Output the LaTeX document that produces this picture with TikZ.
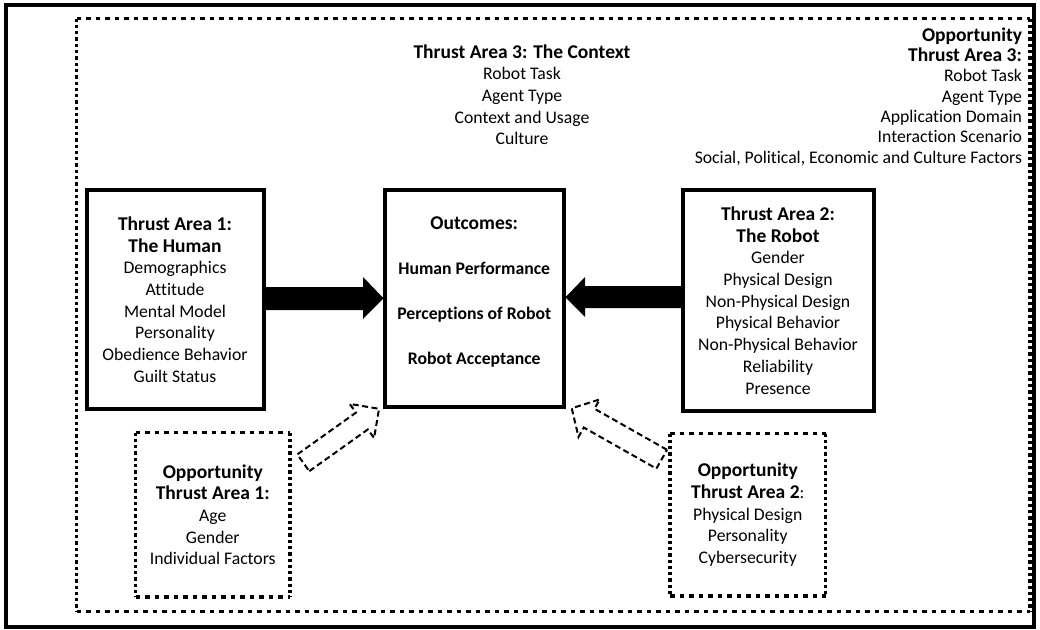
\documentclass[tikz,border=0pt]{standalone}
\usepackage{fontspec}
\setmainfont{Carlito}[Ligatures={NoCommon}]
\usetikzlibrary{calc}
\newcommand\myBody{\fontsize{17.7}{21.7}\selectfont}
\newcommand\myTitle{\fontsize{19.5}{21.7}\bfseries\selectfont}
\newcommand\myDotBox[1]{%
  \draw[hdots] (#1.north west) -- (#1.north east);
  \draw[hdots] (#1.south west) -- (#1.south east);
  \draw[vdots] (#1.north west) -- (#1.south west);
  \draw[vdots] (#1.north east) -- (#1.south east);}
\tikzset{
  solidbox/.style={draw, line width=4pt, inner sep=0pt, outer sep=0pt, align=center, font=\myBody},
  dotbox/.style={inner sep=0pt, outer sep=0pt, align=center, font=\myBody},
  hdots/.style={line width=3.5pt, dash pattern=on 4.9pt off 4.6pt},
  vdots/.style={line width=3.5pt, dash pattern=on 3.3pt off 3pt},
  hollow/.style={draw, line width=2pt, dash pattern=on 6pt off 3.5pt, line join=miter},
  txt/.style={inner sep=0pt, outer sep=0pt, font=\myBody}
}
\begin{document}
\begin{tikzpicture}[x=1pt,y=-1pt]
\useasboundingbox (0,0) rectangle (1040,629);
\fill[white] (0,0) rectangle (1040,629);
% outer frame
\draw[line width=4pt] (6,5) rectangle (1034,626.5);
% dotted frame
\coordinate (fnw) at (76.5,18.5);
\coordinate (fse) at (1030,611.5);
\draw[hdots] (fnw) -- (fse |- fnw);
\draw[hdots] (fnw |- fse) -- (fse);
\draw[vdots] (fnw) -- (fnw |- fse);
\draw[vdots] (fse |- fnw) -- (fse);

% Thrust area 3
\node[txt, align=center] (ta3) at (522,94.7) {{\myTitle Thrust Area 3: The Context}\\Robot Task\\Agent Type\\Context and Usage\\Culture};
% Opportunity thrust area 3
\node[txt, align=right, anchor=north east, font=\fontsize{17.7}{20.3}\selectfont] (ot3) at (1022,27.6) {{\bfseries\fontsize{19.5}{20.3}\selectfont Opportunity}\\{\bfseries\fontsize{19.5}{20.3}\selectfont Thrust Area 3:}\\Robot Task\\Agent Type\\Application Domain\\Interaction Scenario\\Social, Political, Economic and Culture Factors};

% main boxes
\node[solidbox, minimum width=177pt, minimum height=219pt] (h) at (175,299.5)
  {{\myTitle Thrust Area 1:}\\{\myTitle The Human}\\Demographics\\Attitude\\Mental Model\\Personality\\Obedience Behavior\\Guilt Status};
\node[solidbox, minimum width=178.5pt, minimum height=217.5pt] (o) at (474.25,298.25) {};
\node[txt, align=center, font=\fontsize{17.7}{45}\bfseries\selectfont] (otx) at (474.25,292)
  {{\myTitle Outcomes:}\\Human Performance\\Perceptions of Robot\\Robot Acceptance};
\node[solidbox, minimum width=191pt, minimum height=221pt] (r) at (778,300.5)
  {{\myTitle Thrust Area 2:}\\{\myTitle The Robot}\\Gender\\Physical Design\\Non-Physical Design\\Physical Behavior\\Non-Physical Behavior\\Reliability\\Presence};

% opportunity boxes
\node[dotbox, minimum width=154.5pt, minimum height=164.5pt] (o1) at (212.75,514.75)
  {{\myTitle Opportunity}\\{\myTitle Thrust Area 1:}\\Age\\Gender\\Individual Factors};
\myDotBox{o1}
\node[dotbox, minimum width=155.5pt, minimum height=162.5pt] (o2) at (747.75,514.75)
  {{\myTitle Opportunity}\\{\myTitle Thrust Area 2}:\\Physical Design\\Personality\\Cybersecurity};
\myDotBox{o2}

% solid arrows
\fill (h.east |- 0,287) -- (363,287) -- (363,277) -- ($(o.west)+(-1.5,0)$) -- (363,319) -- (363,310) -- (h.east |- 0,310) -- cycle;
\fill (r.west |- 0,286) -- (585,286) -- (585,277) -- ($(o.east)+(2,-1)$) -- (585,317) -- (585,308) -- (r.west |- 0,308) -- cycle;

% hollow dashed arrows
\coordinate (t1) at (303.3,462.8);
\begin{scope}[shift={(t1)}, rotate=35.5]
  \draw[hollow] (0,10.3) -- (72,10.3) -- (72,21) -- (93,0) -- (72,-21) -- (72,-10.3) -- (0,-10.3) -- cycle;
\end{scope}
\coordinate (t2) at (661.7,459.2);
\begin{scope}[shift={(t2)}, rotate=150.5]
  \draw[hollow] (0,10.8) -- (83.4,10.8) -- (83.4,21.5) -- (103.4,0) -- (83.4,-21.5) -- (83.4,-10.8) -- (0,-10.8) -- cycle;
\end{scope}
\end{tikzpicture}
\end{document}
